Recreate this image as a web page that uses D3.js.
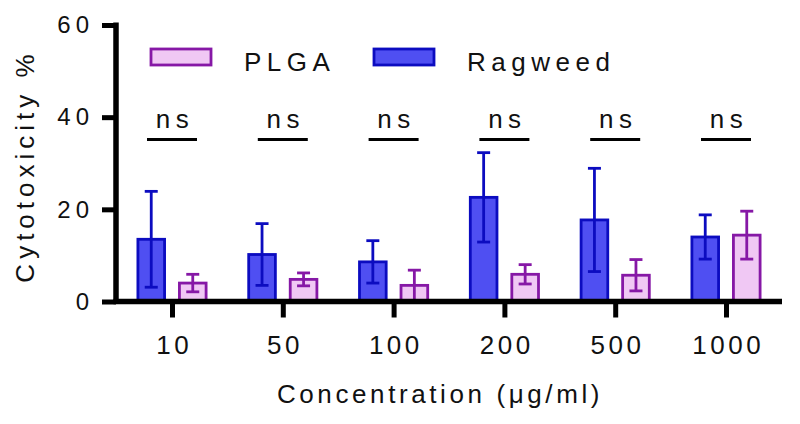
<!DOCTYPE html>
<html><head><meta charset="utf-8">
<script src="https://cdn.jsdelivr.net/npm/d3@7/dist/d3.min.js"></script>
<style>
html,body{margin:0;padding:0;background:#fff;}
text{font-family:"Liberation Sans",Arial,sans-serif;fill:#111;}
</style></head>
<body><svg id="c" width="800" height="424"></svg>
<script>
const categories = ["10","50","100","200","500","1000"];
const seriesNames = ["Ragweed","PLGA"];
const ragweedMean = [13.5, 10.2, 8.6, 22.6, 17.7, 14.0];
const ragweedSD   = [10.4, 6.7, 4.6, 9.7, 11.2, 4.8];
const plgaMean    = [4.0, 4.8, 3.5, 5.9, 5.7, 14.4];
const plgaSD      = [1.9, 1.4, 3.3, 2.1, 3.4, 5.2];
const yTicks = [0, 20, 40, 60];
const sigLabels = ["ns","ns","ns","ns","ns","ns"];

const colors = {
  Ragweed: {fill:"#4f4ff2", stroke:"#0c0cc0"},
  PLGA: {fill:"#f0c8f4", stroke:"#8618a6"}
};
const FONT = "Liberation Sans, Arial, sans-serif";

const svg = d3.select("#c");
const y = d3.scaleLinear().domain([0,60]).range([301.5, 25]);
const x = d3.scalePoint().domain(categories).range([172, 726]);
const xs = d3.scaleBand().domain(seriesNames).range([-35.5, 35.5]).paddingInner(0.29);

const data = seriesNames.map(s => ({
  name: s,
  values: categories.map((c,i) => ({
    cat: c,
    mean: s === "Ragweed" ? ragweedMean[i] : plgaMean[i],
    sd: s === "Ragweed" ? ragweedSD[i] : plgaSD[i]
  }))
}));

// bars
const g = svg.append("g");
data.forEach(s => {
  const col = colors[s.name];
  const sg = g.append("g");
  sg.selectAll("rect").data(s.values).join("rect")
    .attr("x", d => x(d.cat) + xs(s.name) + 1.4)
    .attr("width", xs.bandwidth() - 2.8)
    .attr("y", d => y(d.mean))
    .attr("height", d => y(0) - y(d.mean))
    .attr("fill", col.fill).attr("stroke", col.stroke).attr("stroke-width", 2.8);
  const cx = d => x(d.cat) + xs(s.name) + xs.bandwidth()/2;
  sg.selectAll("line.v").data(s.values).join("line").attr("class","v")
    .attr("x1", cx).attr("x2", cx)
    .attr("y1", d => y(d.mean + d.sd)).attr("y2", d => y(Math.max(0, d.mean - d.sd)))
    .attr("stroke", col.stroke).attr("stroke-width", 2.8);
  ["top","bot"].forEach(k => {
    sg.selectAll("line."+k).data(s.values).join("line").attr("class",k)
      .attr("x1", d => cx(d) - 6.5).attr("x2", d => cx(d) + 6.5)
      .attr("y1", d => y(k==="top" ? d.mean + d.sd : Math.max(0, d.mean - d.sd)))
      .attr("y2", d => y(k==="top" ? d.mean + d.sd : Math.max(0, d.mean - d.sd)))
      .attr("stroke", col.stroke).attr("stroke-width", 2.8);
  });
});

// y axis
const yAxis = svg.append("g").attr("transform","translate(116,0)")
  .call(d3.axisLeft(y).tickValues(yTicks).tickSize(14).tickPadding(8));
yAxis.select(".domain").remove();
yAxis.selectAll(".tick line").attr("stroke","#000").attr("stroke-width",5);
yAxis.selectAll(".tick text").attr("font-size",24).attr("letter-spacing","5px")
  .attr("fill","#111").style("font-family",FONT);
svg.append("line").attr("x1",116).attr("x2",116).attr("y1",y(60)-2.5).attr("y2",y(0)+2.5)
  .attr("stroke","#000").attr("stroke-width",5.5);

// x axis
const xAxis = svg.append("g").attr("transform",`translate(0,${y(0)})`)
  .call(d3.axisBottom(x).tickSize(16).tickPadding(18));
xAxis.select(".domain").remove();
xAxis.selectAll(".tick line").attr("stroke","#000").attr("stroke-width",5);
xAxis.selectAll(".tick text").attr("font-size",26).attr("letter-spacing","3.5px")
  .attr("dx","1.75px")
  .attr("fill","#111").style("font-family",FONT);
svg.append("line").attr("x1",113.5).attr("x2",782).attr("y1",y(0)).attr("y2",y(0))
  .attr("stroke","#000").attr("stroke-width",5.5);

// significance
const sig = svg.append("g");
sig.selectAll("line").data(categories).join("line")
  .attr("x1", d => x(d) - 25).attr("x2", d => x(d) + 25)
  .attr("y1", 139.5).attr("y2", 139.5).attr("stroke","#000").attr("stroke-width",3);
sig.selectAll("text").data(categories).join("text")
  .attr("x", d => x(d) + 3).attr("y", 128).attr("text-anchor","middle")
  .attr("font-size",26).attr("letter-spacing","5.5px")
  .text((d,i) => sigLabels[i]);

// axis titles
svg.append("text").attr("transform","translate(34,166) rotate(-90)")
  .attr("text-anchor","middle").attr("font-size",26).attr("letter-spacing","5px")
  .text("Cytotoxicity %");
svg.append("text").attr("x",440).attr("y",403).attr("text-anchor","middle")
  .attr("font-size",26).attr("letter-spacing","3.6px")
  .text("Concentration (\u03bcg/ml)");

// legend
const legendOrder = ["PLGA","Ragweed"];
const lx = d3.scalePoint().domain(legendOrder).range([151, 374]);
const lg = svg.append("g");
lg.selectAll("rect").data(legendOrder).join("rect")
  .attr("x", d => lx(d)).attr("y", 49).attr("width", 60).attr("height", 16)
  .attr("fill", d => colors[d].fill).attr("stroke", d => colors[d].stroke).attr("stroke-width",2.8);
lg.selectAll("text").data(legendOrder).join("text")
  .attr("x", d => lx(d) + 93).attr("y", 71)
  .attr("font-size",26).attr("letter-spacing","5.5px")
  .text(d => d);
</script></body></html>
